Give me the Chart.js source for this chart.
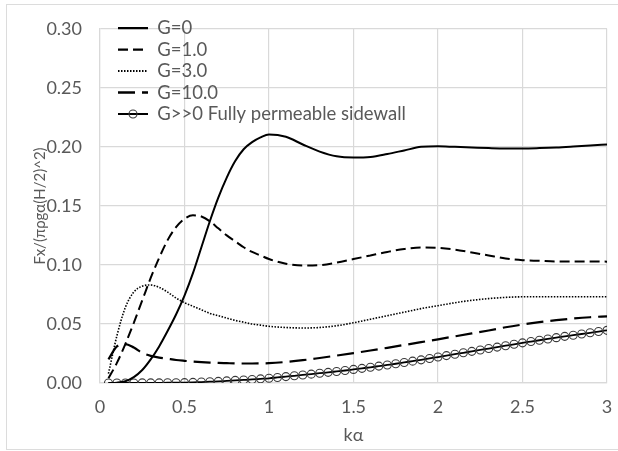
<!DOCTYPE html>
<html>
<head>
<meta charset="utf-8">
<script src="https://cdn.jsdelivr.net/npm/chart.js@4/dist/chart.umd.min.js"></script>
<style>
  html, body { margin: 0; padding: 0; background: #fff; }
  #wrap { position: relative; width: 618px; height: 451px; overflow: hidden; }
  #frame { position: absolute; left: 6px; top: 4px; width: 640px; height: 444px; border: 1.5px solid #dcdcdc; }
  canvas { position: absolute; left: 0; top: 0; }
</style>
</head>
<body>
<div id="wrap">
  <div id="frame"></div>
  <canvas id="chart" width="618" height="451"></canvas>
</div>
<script>
// kα Werte (Kurven)
const kaLine = [0.05, 0.1, 0.15, 0.2, 0.25, 0.3, 0.35, 0.4, 0.45, 0.5,
  0.55, 0.6, 0.65, 0.7, 0.75, 0.8, 0.85, 0.9, 0.95, 1.0,
  1.1, 1.2, 1.3, 1.4, 1.5, 1.6, 1.7, 1.8, 1.9, 2.0,
  2.1, 2.2, 2.3, 2.4, 2.5, 2.6, 2.7, 2.8, 2.9, 3.0];

const g0 = [0, 0.0003, 0.0015, 0.005, 0.011, 0.02, 0.031, 0.044, 0.058, 0.074,
  0.093, 0.115, 0.137, 0.157, 0.174, 0.188, 0.198, 0.204, 0.208, 0.2105,
  0.2085, 0.202, 0.196, 0.192, 0.191, 0.1915, 0.194, 0.197, 0.2, 0.2005,
  0.2, 0.1995, 0.199, 0.1987, 0.1987, 0.199, 0.1995, 0.2003, 0.2012, 0.202];

const g1 = [0.004, 0.017, 0.033, 0.051, 0.07, 0.089, 0.106, 0.121, 0.132, 0.139,
  0.142, 0.141, 0.137, 0.131, 0.125, 0.12, 0.115, 0.111, 0.108, 0.105,
  0.101, 0.0995, 0.0998, 0.102, 0.105, 0.108, 0.111, 0.1135, 0.1148, 0.1145,
  0.113, 0.1105, 0.108, 0.1055, 0.104, 0.1035, 0.103, 0.103, 0.103, 0.1028];

const g3 = [0.008, 0.04, 0.064, 0.077, 0.082, 0.083, 0.081, 0.077, 0.072, 0.068,
  0.065, 0.062, 0.059, 0.057, 0.055, 0.053, 0.0515, 0.05, 0.049, 0.048,
  0.047, 0.0466, 0.047, 0.0485, 0.051, 0.054, 0.057, 0.06, 0.063, 0.0655,
  0.068, 0.07, 0.0715, 0.0725, 0.073, 0.073, 0.073, 0.073, 0.073, 0.073];

const g10 = [0.02, 0.031, 0.033, 0.03, 0.0255, 0.023, 0.0215, 0.0205, 0.0195, 0.0188,
  0.0182, 0.0177, 0.0173, 0.017, 0.0168, 0.0166, 0.0165, 0.0165, 0.0166, 0.0168,
  0.0178, 0.0193, 0.0212, 0.0232, 0.0253, 0.0275, 0.0298, 0.0322, 0.0346, 0.037,
  0.0395, 0.042, 0.0445, 0.0472, 0.0495, 0.0515, 0.0532, 0.0546, 0.0557, 0.0565];

// kα Werte mit Markern (voll durchlässige Seitenwand)
const kaFine = [0.05, 0.1, 0.15, 0.2, 0.25, 0.3, 0.35, 0.4, 0.45, 0.5,
  0.55, 0.6, 0.65, 0.7, 0.75, 0.8, 0.85, 0.9, 0.95, 1.0,
  1.05, 1.1, 1.15, 1.2, 1.25, 1.3, 1.35, 1.4, 1.45, 1.5,
  1.55, 1.6, 1.65, 1.7, 1.75, 1.8, 1.85, 1.9, 1.95, 2.0,
  2.05, 2.1, 2.15, 2.2, 2.25, 2.3, 2.35, 2.4, 2.45, 2.5,
  2.55, 2.6, 2.65, 2.7, 2.75, 2.8, 2.85, 2.9, 2.95, 3.0];

const gInf = [0, 0, 0, 0, 0.0001, 0.0001, 0.0001, 0.0002, 0.0002, 0.0003,
  0.0005, 0.0008, 0.0011, 0.0014, 0.0018, 0.0022, 0.0026, 0.003, 0.0035, 0.004,
  0.0047, 0.0054, 0.0061, 0.0068, 0.0075, 0.0083, 0.009, 0.0098, 0.0106, 0.0115,
  0.0124, 0.0133, 0.0143, 0.0153, 0.0163, 0.0174, 0.0185, 0.0196, 0.0208, 0.022,
  0.0232, 0.0244, 0.0256, 0.0268, 0.028, 0.0292, 0.0304, 0.0316, 0.0328, 0.034,
  0.0351, 0.0362, 0.0373, 0.0384, 0.0395, 0.0405, 0.0415, 0.0425, 0.0436, 0.0446];

const labels = ["G=0", "G=1.0", "G=3.0", "G=10.0", "G>>0 Fully permeable sidewall"];

function pts(xs, ys) {
  return xs.map((x, i) => ({ x: x, y: ys[i] }));
}

const FONT = "Lato, 'Open Sans', sans-serif";
const TXT = "#595959";
const GRID = "#d9d9d9";
const FS = 18.5, LPAD = 3, LBW = 30;

function lineSet(label, xs, ys, dash, width) {
  return {
    label: label,
    data: pts(xs, ys),
    borderColor: "#000",
    backgroundColor: "#000",
    borderWidth: width,
    borderDash: dash,
    pointRadius: 0,
    cubicInterpolationMode: "monotone",
    fill: false
  };
}

const datasets = [
  lineSet(labels[0], kaLine, g0, [], 2),
  lineSet(labels[1], kaLine, g1, [10, 5], 2),
  lineSet(labels[2], kaLine, g3, [1.5, 1.5], 1.6),
  lineSet(labels[3], kaLine, g10, [17, 7], 2.2),
  {
    label: labels[4],
    data: pts(kaFine, gInf),
    borderColor: "#000",
    backgroundColor: "#000",
    borderWidth: 1.8,
    pointRadius: 4,
    pointStyle: "circle",
    pointBorderColor: "#3a3a3a",
    pointBackgroundColor: "rgba(0,0,0,0)",
    pointBorderWidth: 1.1,
    cubicInterpolationMode: "monotone",
    fill: false
  }
];

// Legende in der Plotfläche verschieben, Kreis beim letzten Eintrag
const legendTweak = {
  id: "legendTweak",
  beforeDraw(chart) {
    const lg = chart.legend;
    lg.left = chart.chartArea.left + 15;
    lg.top = chart.chartArea.top - 13;
  },
  afterDraw(chart) {
    const lg = chart.legend;
    const ctx = chart.ctx;
    const cx = lg.left + LPAD + LBW / 2;
    const cy = lg.top + LPAD + 4 * (FS + LPAD) + FS / 2;
    ctx.save();
    ctx.strokeStyle = "#3a3a3a";
    ctx.lineWidth = 1.1;
    ctx.beginPath();
    ctx.arc(cx, cy, 4, 0, Math.PI * 2);
    ctx.stroke();
    ctx.restore();
  }
};

new Chart(document.getElementById("chart"), {
  type: "line",
  data: { datasets: datasets },
  plugins: [legendTweak],
  options: {
    responsive: false,
    animation: false,
    layout: { padding: { left: 0, right: 11, top: 22, bottom: 0 } },
    plugins: {
      tooltip: { enabled: false },
      legend: {
        position: "chartArea",
        align: "start",
        labels: {
          usePointStyle: true,
          pointStyle: "line",
          pointStyleWidth: LBW,
          padding: LPAD,
          color: TXT,
          font: { family: FONT, size: FS },
          generateLabels(chart) {
            return chart.data.datasets.map((ds, i) => ({
              text: ds.label,
              fillStyle: ds.borderColor,
              strokeStyle: ds.borderColor,
              lineWidth: ds.borderWidth + 0.3,
              lineDash: ds.borderDash || [],
              pointStyle: "line",
              fontColor: TXT,
              hidden: false,
              datasetIndex: i
            }));
          }
        }
      }
    },
    scales: {
      x: {
        type: "linear",
        min: 0,
        max: 3,
        afterFit(scale) {
          scale.height = 68;
          scale.paddingLeft = 0;
          scale.paddingRight = 0;
        },
        ticks: {
          stepSize: 0.5,
          padding: 13,
          color: TXT,
          font: { family: FONT, size: 18 },
          callback: (v) => String(v)
        },
        grid: { color: GRID, lineWidth: 1.2, drawTicks: false },
        border: { color: GRID, width: 1.2 },
        title: {
          display: true,
          text: "kα",
          color: TXT,
          font: { family: FONT, size: 18 },
          padding: { top: 0, bottom: 5 }
        }
      },
      y: {
        min: 0,
        max: 0.3,
        afterFit(scale) { scale.width = 100; },
        ticks: {
          stepSize: 0.05,
          padding: 18,
          color: TXT,
          font: { family: FONT, size: 18 },
          callback: (v) => v.toFixed(2)
        },
        grid: { color: GRID, lineWidth: 1.2, drawTicks: false },
        border: { color: GRID, width: 1.2 },
        title: {
          display: true,
          text: "Fx/(πρgα(H/2)^2)",
          color: TXT,
          font: { family: FONT, size: 15 },
          padding: { top: 31, bottom: 0 }
        }
      }
    }
  }
});
</script>
</body>
</html>
